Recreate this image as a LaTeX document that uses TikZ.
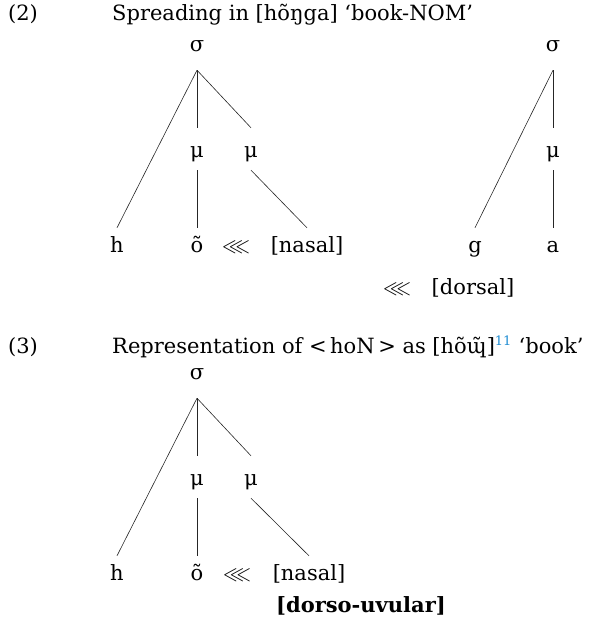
\documentclass[tikz,border=0pt]{standalone}
\usepackage{amssymb}
\usepackage{fontspec}
\setmainfont{DejaVu Serif}
\usepackage{xcolor}
\definecolor{linkblue}{RGB}{30,140,210}

\begin{document}
\begin{tikzpicture}[
    x=1pt, y=1pt,
    every node/.style={font=\fontsize{21}{25}\selectfont},
    lbl/.style={anchor=base west, inner sep=0pt},
    sigma/.style={anchor=base, inner sep=0pt, text depth=19pt},
    mora/.style={anchor=base, inner sep=0pt, text height=29pt, text depth=13pt},
    seg/.style={anchor=base, inner sep=0pt, text height=24pt},
    txt/.style={anchor=base, inner sep=0pt},
    branch/.style={line width=0.6pt, black!85}
]
\useasboundingbox (0,0) rectangle (590,-625);

% Example (2)
\node[lbl] (num2) at (8,-20) {(2)};
\node[lbl] (head2) at (112,-20) {Spreading in [hõŋga] ‘book-NOM’};

% first syllable
\node[sigma] (sig1) at (197,-51) {σ};
\node[mora] (mu1) at (197,-157) {μ};
\node[mora] (mu2) at (251,-157) {μ};
\node[seg] (h1) at (117,-252) {h};
\node[seg] (o1) at (197,-252) {õ};
\node[txt] (ll1) at (236,-252) {$\lll$};
\node[seg] (nas1) at (307,-252) {[nasal]};

% second syllable
\node[sigma] (sig2) at (553,-51) {σ};
\node[mora] (mu3) at (553,-157) {μ};
\node[seg] (g1) at (475,-252) {g};
\node[seg] (a1) at (553,-252) {a};
\node[txt] (ll2) at (397,-294) {$\lll$};
\node[txt] (dor1) at (473,-294) {[dorsal]};

\draw[branch] (sig1.south) -- (h1.north);
\draw[branch] (sig1.south) -- (mu1.north);
\draw[branch] (sig1.south) -- (mu2.north);
\draw[branch] (mu1.south) -- (o1.north);
\draw[branch] (mu2.south) -- (nas1.north);
\draw[branch] (sig2.south) -- (g1.north);
\draw[branch] (sig2.south) -- (mu3.north);
\draw[branch] (mu3.south) -- (a1.north);

% Example (3)
\node[lbl] (num3) at (8,-353) {(3)};
\node[lbl] (head3) at (112,-353) {Representation of <\,hoN\,> as [hõɰ̃]\textsuperscript{\color{linkblue}\fontsize{13}{15}\selectfont 11} ‘book’};

\node[sigma] (sig3) at (197,-379) {σ};
\node[mora] (mu4) at (197,-485) {μ};
\node[mora] (mu5) at (251,-485) {μ};
\node[seg] (h2) at (117,-580) {h};
\node[seg] (o2) at (197,-580) {õ};
\node[txt] (ll3) at (237,-580) {$\lll$};
\node[seg] (nas2) at (309,-580) {[nasal]};
\node[txt, font=\fontsize{21}{25}\selectfont\bfseries] (duv) at (361,-612) {[dorso-uvular]};

\draw[branch] (sig3.south) -- (h2.north);
\draw[branch] (sig3.south) -- (mu4.north);
\draw[branch] (sig3.south) -- (mu5.north);
\draw[branch] (mu4.south) -- (o2.north);
\draw[branch] (mu5.south) -- (nas2.north);

\end{tikzpicture}
\end{document}
